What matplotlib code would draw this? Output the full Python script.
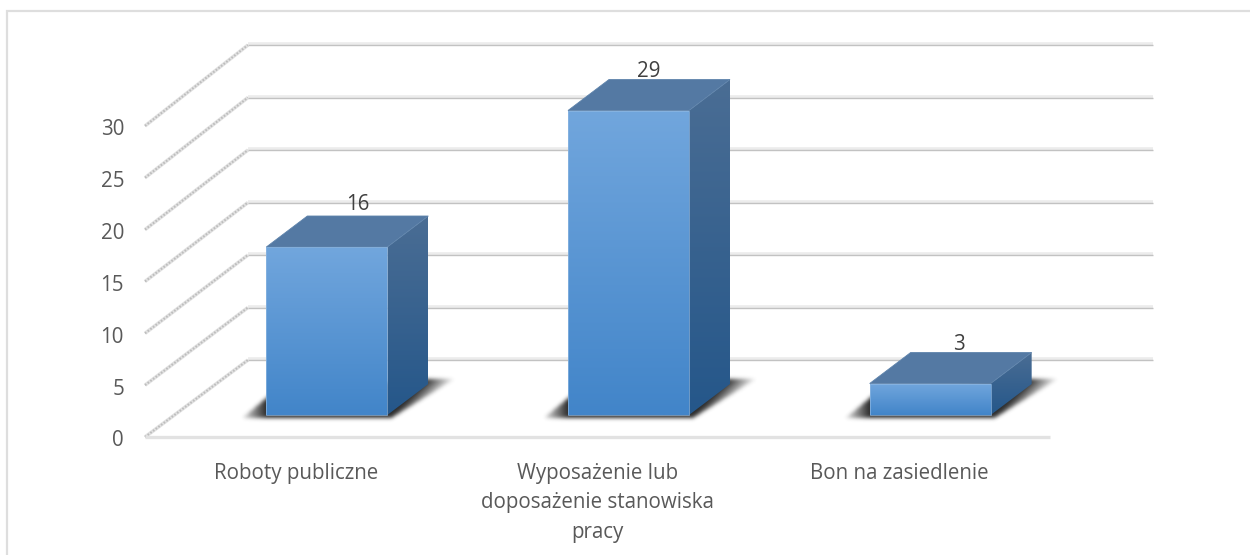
import matplotlib
matplotlib.use("Agg")
import numpy as np
import matplotlib.pyplot as plt
from matplotlib.patches import Polygon, Rectangle
from matplotlib.path import Path

plt.rcParams['font.family'] = ['Open Sans', 'DejaVu Sans']

# Data
CATEGORIES = ["Roboty publiczne", "Wyposażenie lub\ndoposażenie stanowiska\npracy", "Bon na zasiedlenie"]
VALUES = [16, 29, 3]
Y_TICKS = [0, 5, 10, 15, 20, 25, 30]

# Layout, in image pixels
FLOOR_LEFT, FLOOR_RIGHT, FLOOR_Y = 145, 1050, 437
DEPTH_X, DEPTH_Y = 103, 77
PX_PER_UNIT = 10.5
BAR_W = 121
BAR_SHIFT = 31
BAR_BASE_Y = 415
BOX_DX, BOX_DY = 41, 31
LABEL_NUDGE = [(0, -43), (-11, -39), (-2, -39)]
FONT_SIZE = 14.8


def gradient_poly(ax, pts, top, bottom, zorder):
    # fill a polygon with a vertical gradient, clipped to its outline
    pts = np.array(pts, dtype=float)
    c0, c1 = np.array(matplotlib.colors.to_rgb(top)), np.array(matplotlib.colors.to_rgb(bottom))
    t = np.linspace(0, 1, 64)[:, None, None]
    img = c0[None, None, :] * (1 - t) + c1[None, None, :] * t
    ext = (pts[:, 0].min(), pts[:, 0].max(), pts[:, 1].max(), pts[:, 1].min())
    im = ax.imshow(img, extent=ext, aspect='auto', zorder=zorder, interpolation='bilinear')
    clip = Polygon(pts, closed=True, transform=ax.transData, fc='none', ec='none')
    ax.add_patch(clip)
    im.set_clip_path(clip)


def blur(a, sigma):
    r = int(3 * sigma)
    k = np.exp(-0.5 * (np.arange(-r, r + 1) / sigma) ** 2)
    k /= k.sum()
    a = np.apply_along_axis(lambda m: np.convolve(m, k, mode='same'), 0, a)
    return np.apply_along_axis(lambda m: np.convolve(m, k, mode='same'), 1, a)


def draw_shadow(ax, x0, x1):
    # soft floor shadow: rasterised outline, blurred, fading away from the bar
    y_low, y_high = BAR_BASE_Y + 3, BAR_BASE_Y - BOX_DY - 5
    outline = Path([(x0 - 24, y_low), (x1 + 4, y_low),
                    (x1 + BOX_DX + 26, y_high), (x1 + BOX_DX - 5, y_high),
                    (x0 + 5, y_low - 24), (x0 - 24, y_low)])
    left, right, bottom, top = int(x0 - 40), int(x1 + BOX_DX + 45), int(y_low + 12), int(y_high - 12)
    xx, yy = np.meshgrid(np.arange(left, right) + 0.5, np.arange(top, bottom) + 0.5)
    mask = outline.contains_points(np.c_[xx.ravel(), yy.ravel()]).reshape(xx.shape).astype(float)
    fade = np.ones_like(xx)
    fade = np.where(xx < x0, np.clip(1 - (x0 - xx) / 28, 0, 1), fade)
    edge = x1 + BOX_DX - (yy - y_high)
    fade = np.where(xx > edge, np.clip(1 - (xx - edge) / 28, 0, 1), fade)
    rgba = np.zeros(mask.shape + (4,))
    rgba[..., :3] = 0.13
    rgba[..., 3] = blur(mask * fade, 2.0) * 0.95
    ax.imshow(rgba, extent=(left, right, bottom, top), aspect='auto', zorder=3, interpolation='bilinear')


def main():
    fig = plt.figure(figsize=(12.5, 5.55), dpi=100)
    ax = fig.add_axes([0, 0, 1, 1])
    ax.set_xlim(0, 1250)
    ax.set_ylim(555, 0)
    ax.axis('off')

    # chart border, runs off the right and bottom of the picture
    ax.add_patch(Rectangle((6.5, 11), 1300, 600, fc='white', ec='#dedede', lw=1.6, zorder=0))

    # walls and floor grid
    for tick in Y_TICKS:
        y = FLOOR_Y - tick * PX_PER_UNIT * 0.9875
        back_y = FLOOR_Y - DEPTH_Y - tick * PX_PER_UNIT
        ax.plot([FLOOR_LEFT, FLOOR_LEFT + DEPTH_X], [y, back_y], color='#e2e2e2', lw=2.6,
                solid_capstyle='butt', zorder=1)
        ax.plot([FLOOR_LEFT, FLOOR_LEFT + DEPTH_X], [y, back_y], color='#bdbdbd', lw=1.5,
                ls=(0, (0.8, 0.8)), zorder=1)
        ax.plot([FLOOR_LEFT + DEPTH_X, FLOOR_RIGHT + DEPTH_X], [back_y - 0.6, back_y - 0.6], color='#ececec',
                lw=2.6, solid_capstyle='butt', zorder=1)
        ax.plot([FLOOR_LEFT + DEPTH_X, FLOOR_RIGHT + DEPTH_X], [back_y + 0.2, back_y + 0.2],
                color='#c2c2c2', lw=1.0, solid_capstyle='butt', zorder=1)
        ax.text(FLOOR_LEFT - 21, y + 4, str(tick), ha='right', va='center', fontsize=FONT_SIZE,
                color='#595959')
    ax.plot([FLOOR_LEFT, FLOOR_RIGHT], [FLOOR_Y, FLOOR_Y], color='#e2e2e2', lw=2.4,
            solid_capstyle='butt', zorder=1)

    slot = (FLOOR_RIGHT - FLOOR_LEFT) / len(CATEGORIES)
    for i, (cat, val) in enumerate(zip(CATEGORIES, VALUES)):
        center = FLOOR_LEFT + (i + 0.5) * slot
        x0 = center + BAR_SHIFT - BAR_W / 2
        x1 = x0 + BAR_W
        top = BAR_BASE_Y - val * PX_PER_UNIT

        draw_shadow(ax, x0, x1)

        front = [(x0, top), (x1, top), (x1, BAR_BASE_Y), (x0, BAR_BASE_Y)]
        side = [(x1, top), (x1 + BOX_DX, top - BOX_DY), (x1 + BOX_DX, BAR_BASE_Y - BOX_DY), (x1, BAR_BASE_Y)]
        lid = [(x0, top), (x0 + BOX_DX, top - BOX_DY), (x1 + BOX_DX, top - BOX_DY), (x1, top)]
        gradient_poly(ax, front, '#71a6dd', '#4285c9', 5)
        gradient_poly(ax, side, '#4a6d94', '#25578a', 5)
        ax.add_patch(Polygon(lid, closed=True, fc='#5479a3', ec='#5e83ab', lw=0.6, zorder=6))
        ax.add_patch(Rectangle((x0, top), BAR_W, BAR_BASE_Y - top, fc='none', ec='#8fb8e2', lw=0.7,
                               zorder=6, alpha=0.7))

        ax.text(center + BAR_SHIFT + 31 + LABEL_NUDGE[i][0], top + LABEL_NUDGE[i][1], str(val),
                ha='center', va='center', fontsize=FONT_SIZE, color='#404040', zorder=7)
        ax.text(center, 463, cat, ha='center', va='top', fontsize=FONT_SIZE,
                color='#595959', linespacing=1.52)

    ax.set_xlim(0, 1250)
    ax.set_ylim(555, 0)
    fig.savefig("out.png", dpi=100)


if __name__ == "__main__":
    main()
